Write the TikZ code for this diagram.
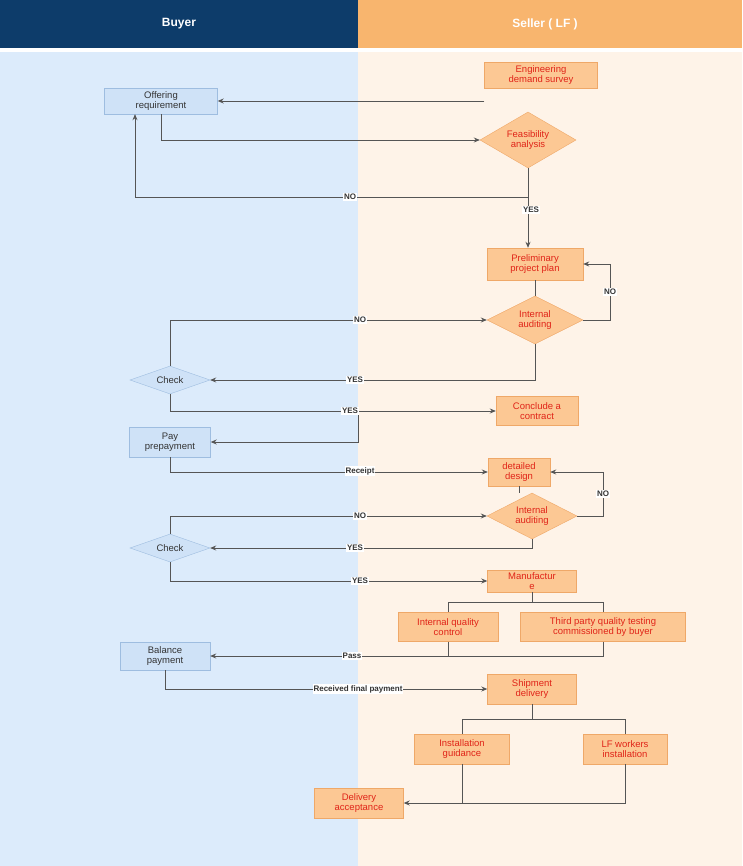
\documentclass[tikz,border=0pt]{standalone}
\usepackage{fontspec}
\setmainfont{Liberation Sans}
\usetikzlibrary{shapes.geometric,arrows.meta}
\definecolor{hdrB}{HTML}{0D3C6A}
\definecolor{hdrS}{HTML}{F8B56E}
\definecolor{bgB}{HTML}{DCEBFB}
\definecolor{bgS}{HTML}{FEF3E8}
\definecolor{oFill}{HTML}{FCC894}
\definecolor{oLine}{HTML}{EFA868}
\definecolor{bFill}{HTML}{CFE2F7}
\definecolor{bLine}{HTML}{9EBDE0}
\definecolor{rTxt}{HTML}{E02418}
\definecolor{ln}{HTML}{555555}
\begin{document}
\begin{tikzpicture}[x=1pt,y=-1pt,
 font=\fontsize{9.5}{10.5}\selectfont,
 obox/.style={draw=oLine,fill=oFill,text=rTxt,align=center,minimum height=#1,inner sep=1pt},
 obox/.default=28pt,
 bbox/.style={draw=bLine,fill=bFill,text=black!80,align=center,minimum height=#1,inner sep=1pt},
 bbox/.default=28pt,
 odia/.style={diamond,aspect=2,draw=oLine,fill=oFill,text=rTxt,align=center,inner sep=0pt},
 bdia/.style={diamond,aspect=2.8,draw=bLine,fill=bFill,text=black!80,inner sep=0pt,minimum width=80pt,minimum height=28pt},
 ar/.style={draw=ln,line width=0.8pt,-{Stealth[length=6pt,width=5pt]}},
 ll/.style={draw=ln,line width=0.8pt},
 lab/.style={fill=white,font=\fontsize{8}{9}\selectfont\bfseries,text=black!80,inner sep=1pt}]
\useasboundingbox (0,0) rectangle (742,866);
\fill[bgB] (0,52) rectangle (358,866);
\fill[bgS] (358,52) rectangle (742,866);
\fill[hdrB] (0,0) rectangle (358,48);
\fill[hdrS] (358,0) rectangle (742,48);
\node[white,font=\fontsize{12}{13}\selectfont\bfseries] (hb) at (179,24) {Buyer};
\node[white,font=\fontsize{12}{13}\selectfont\bfseries] (hs) at (545,24) {Seller ( LF )};

\node[obox=26pt,minimum width=113pt] (survey) at (541,75) {Engineering\\demand survey};
\node[bbox=26pt,minimum width=113pt] (offer) at (161,101) {Offering\\requirement};
\node[odia,minimum width=96pt,minimum height=56pt] (feas) at (528,140) {Feasibility\\analysis};
\node[obox=32pt,minimum width=96pt] (prelim) at (535,264) {Preliminary\\project plan};
\node[odia,minimum width=96pt,minimum height=48pt] (aud1) at (535,320) {Internal\\auditing};
\node[bdia] (chk1) at (170,380) {Check};
\node[obox=29pt,minimum width=82pt] (concl) at (537,411) {Conclude a\\contract};
\node[bbox=30pt,minimum width=81pt] (pay) at (170,442) {Pay\\prepayment};
\node[obox=28pt,minimum width=62pt] (design) at (519,472) {detailed\\design};
\node[odia,minimum width=90pt,minimum height=46pt] (aud2) at (532,516) {Internal\\auditing};
\node[bdia] (chk2) at (170,548) {Check};
\node[obox=22pt,minimum width=89pt] (manu) at (532,581) {Manufactur\\e};
\node[obox=29pt,minimum width=100pt] (iqc) at (448,627) {Internal quality\\control};
\node[obox=29pt,minimum width=165pt] (tp) at (603,627) {Third party quality testing\\commissioned by buyer};
\node[bbox=28pt,minimum width=90pt] (bal) at (165,656) {Balance\\payment};
\node[obox=30pt,minimum width=89pt] (ship) at (532,689) {Shipment\\delivery};
\node[obox=30pt,minimum width=95pt] (guid) at (462,749) {Installation\\guidance};
\node[obox=30pt,minimum width=84pt] (lfw) at (625,749) {LF workers\\installation};
\node[obox=30pt,minimum width=89pt] (deliv) at (359,803) {Delivery\\acceptance};

\draw[ar] (survey.south west |- offer.east) -- (offer.east);
\draw[ar] (offer.south) |- (feas.west);
\draw[ar] (feas.south) -- (528,197) -| (offer.south west -| 135,0);
\draw[ar] (feas.south) -- (feas.south |- prelim.north);
\draw[ll] (prelim.south) -- (aud1.north);
\draw[ar] (aud1.east) -- (610,320) |- (prelim.east);
\draw[ar] (chk1.north) |- (aud1.west);
\draw[ar] (aud1.south) |- (chk1.east);
\draw[ar] (chk1.south) |- (concl.west);
\coordinate (j1) at (358,411);
\draw[ar] (j1) |- (pay.east);
\draw[ar] (pay.south) |- (design.west);
\draw[ll] (design.south) -- (aud2.north -| design.south);
\draw[ar] (aud2.east) -- (603,516) |- (design.east);
\draw[ar] (chk2.north) |- (aud2.west);
\draw[ar] (aud2.south) |- (chk2.east);
\draw[ar] (chk2.south) |- (manu.west);
\draw[ll] (manu.south) -- (532,602) -| (iqc.north);
\draw[ll] (532,602) -| (tp.north);
\draw[ll] (iqc.south) -- (iqc.south |- bal.east);
\draw[ar] (tp.south) |- (bal.east);
\draw[ar] (bal.south) |- (ship.west);
\draw[ll] (ship.south) -- (532,719) -| (guid.north);
\draw[ll] (532,719) -| (lfw.north);
\draw[ll] (guid.south) -- (guid.south |- deliv.east);
\draw[ar] (lfw.south) |- (deliv.east);

\node[lab] (l1) at (350,197) {NO};
\node[lab] (l2) at (531,210) {YES};
\node[lab] (l3) at (610,292) {NO};
\node[lab] (l4) at (360,320) {NO};
\node[lab] (l5) at (355,380) {YES};
\node[lab] (l6) at (350,411) {YES};
\node[lab] (l7) at (360,471) {Receipt};
\node[lab] (l8) at (603,494) {NO};
\node[lab] (l9) at (360,516) {NO};
\node[lab] (l10) at (355,548) {YES};
\node[lab] (l11) at (360,581) {YES};
\node[lab] (l12) at (352,656) {Pass};
\node[lab] (l13) at (358,689) {Received final payment};
\end{tikzpicture}
\end{document}
